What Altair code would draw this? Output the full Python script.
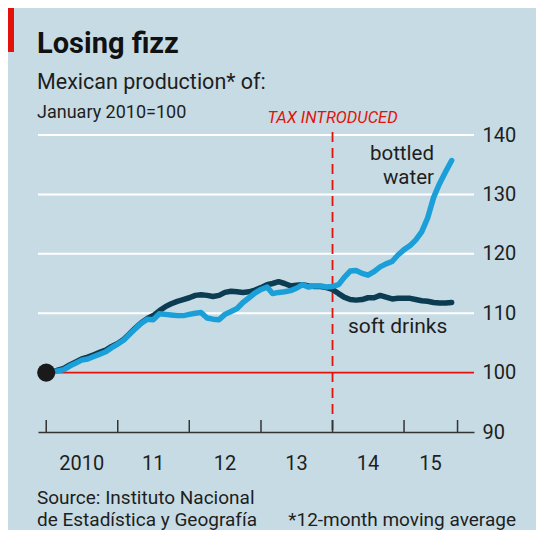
import altair as alt
import pandas as pd

# ---------------- data ----------------
months = pd.date_range("2010-01-01", periods=69, freq="MS").strftime("%Y-%m-%d").tolist()

bottled_water = [
    100.0, 100.1, 100.3, 100.5, 101.1, 101.6, 102.1, 102.3, 102.7, 103.1, 103.5, 104.2,
    104.8, 105.5, 106.4, 107.4, 108.3, 109.0, 108.9, 109.9, 109.8, 109.7, 109.6, 109.6,
    109.8, 110.0, 110.1, 109.2, 109.0, 108.9, 109.8, 110.3, 110.8, 111.8, 112.6, 113.4,
    114.0, 114.4, 113.3, 113.5, 113.6, 113.8, 114.2, 114.8, 114.4, 114.6, 114.6, 114.4,
    114.5, 114.8, 116.0, 117.1, 117.2, 116.7, 116.4, 117.0, 117.8, 118.3, 118.7, 119.8,
    120.7, 121.4, 122.3, 123.7, 126.0, 129.5, 131.8, 133.8, 135.7,
]
soft_drinks = [
    100.0, 100.1, 100.4, 100.7, 101.3, 101.8, 102.3, 102.6, 103.0, 103.4, 103.8, 104.4,
    104.9, 105.6, 106.5, 107.5, 108.4, 109.1, 109.6, 110.4, 111.1, 111.6, 112.0, 112.3,
    112.6, 113.0, 113.1, 113.0, 112.8, 113.0, 113.5, 113.7, 113.6, 113.5, 113.6, 113.9,
    114.3, 114.8, 115.0, 115.3, 115.0, 114.6, 114.7, 114.8, 114.6, 114.5, 114.5, 114.3,
    114.0, 113.3, 112.7, 112.3, 112.2, 112.3, 112.6, 112.6, 113.0, 112.7, 112.4, 112.5,
    112.5, 112.5, 112.3, 112.1, 112.0, 111.8, 111.7, 111.7, 111.8,
]

tick_dates = ["2010-01-01", "2011-01-01", "2012-01-01", "2013-01-01",
              "2014-01-01", "2015-01-01", "2015-10-01"]
year_label_dates = ["2010-07-01", "2011-07-01", "2012-07-01", "2013-07-01",
                    "2014-07-01", "2015-05-16"]
year_labels = ["2010", "11", "12", "13", "14", "15"]
y_labels = [90, 100, 110, 120, 130, 140]
grid_values = [110, 120, 130, 140]
baseline_value = [100]
tax_date = ["2014-01-01"]

# ---------------- styling ----------------
W, H = 436, 297
BG = "#c7dbe4"
FONT = "Roboto"
RED = "#e3120b"
BLUE = "#1a9fd8"
NAVY = "#0b3c52"
INK = "#1e1e1e"

x_scale = alt.Scale(domain=["2009-11-20", "2015-12-24"])
y_scale = alt.Scale(domain=[90, 140])

water_df = pd.DataFrame({"date": months, "value": bottled_water})
soft_df = pd.DataFrame({"date": months, "value": soft_drinks})
grid_df = pd.DataFrame({"value": grid_values})
base_df = pd.DataFrame({"value": baseline_value})
ticks_df = pd.DataFrame({"date": tick_dates})
ylab_df = pd.DataFrame({"value": y_labels})
xlab_df = pd.DataFrame({"date": year_label_dates, "label": year_labels})
tax_df = pd.DataFrame({"date": tax_date})
dot_df = pd.DataFrame({"date": [months[0]], "value": [bottled_water[0]]})
one = pd.DataFrame({"k": [0]})

# axes layer (y on right, x domain line)
axes = alt.Chart(ylab_df).mark_point(opacity=0).encode(
    x=alt.X("k:T", scale=x_scale,
            axis=alt.Axis(labels=False, ticks=False, grid=False, domainColor="#333333",
                          domainWidth=1.6, title=None)),
    y=alt.Y("value:Q", scale=y_scale,
            axis=alt.Axis(orient="right", values=y_labels, grid=False, ticks=False,
                          domain=False, labelFontSize=20, labelPadding=8,
                          labelColor=INK, labelFont=FONT, title=None)),
).transform_calculate(k="datetime(2012, 0, 1)")

grid = alt.Chart(grid_df).mark_rule(color="white", strokeWidth=2).encode(
    y=alt.Y("value:Q", scale=y_scale))

base = alt.Chart(base_df).mark_rule(color=RED, strokeWidth=1.6).encode(
    y=alt.Y("value:Q", scale=y_scale))

tax_line = alt.Chart(tax_df).mark_rule(color=RED, strokeWidth=1.8, strokeDash=[10, 6]).encode(
    x=alt.X("date:T", scale=x_scale), y=alt.value(-3), y2=alt.value(H))

ticks = alt.Chart(ticks_df).mark_rule(color="#333333", strokeWidth=1.5).encode(
    x=alt.X("date:T", scale=x_scale), y=alt.value(H - 12), y2=alt.value(H))

soft_line = alt.Chart(soft_df).mark_line(color=NAVY, strokeWidth=5.5, strokeJoin="round",
                                         strokeCap="round").encode(
    x=alt.X("date:T", scale=x_scale), y=alt.Y("value:Q", scale=y_scale))

water_line = alt.Chart(water_df).mark_line(color=BLUE, strokeWidth=5.5, strokeJoin="round",
                                           strokeCap="round").encode(
    x=alt.X("date:T", scale=x_scale), y=alt.Y("value:Q", scale=y_scale))

dot = alt.Chart(dot_df).mark_circle(color="#1a1a1a", size=330, opacity=1).encode(
    x=alt.X("date:T", scale=x_scale), y=alt.Y("value:Q", scale=y_scale))

xlabels = alt.Chart(xlab_df).mark_text(font=FONT, fontSize=20, color=INK,
                                       baseline="alphabetic", align="center").encode(
    x=alt.X("date:T", scale=x_scale), y=alt.value(H + 38), text="label:N")

tax_text = alt.Chart(tax_df).mark_text(text="TAX INTRODUCED", font=FONT, fontSize=16.5,
                                       fontStyle="italic", color=RED,
                                       baseline="alphabetic", align="center").encode(
    x=alt.X("date:T", scale=x_scale), y=alt.value(-12))

def label(txt, x, y, size, align="left", weight="normal", color=INK):
    return alt.Chart(one).mark_text(
        text=txt, font=FONT, fontSize=size, fontWeight=weight, color=color,
        align=align, baseline="alphabetic",
    ).encode(x=alt.value(x), y=alt.value(y))

red_tag = alt.Chart(one).mark_rect(color=RED).encode(
    x=alt.value(-30), x2=alt.value(-24), y=alt.value(-127), y2=alt.value(-83))

texts = [
    label("Losing fizz", -1, -82, 29, weight="bold", color="#111111"),
    label("Mexican production* of:", -1, -46, 21.5),
    label("January 2010=100", -1, -17, 18),
    label("bottled", 396, 25, 20.5, align="right"),
    label("water", 396, 49, 20.5, align="right"),
    label("soft drinks", 310, 198, 21),
    label("Source: Instituto Nacional", -1, 369, 19),
    label("de Estadística y Geografía", -1, 391, 19),
    label("*12-month moving average", 478, 391, 19, align="right"),
]

chart = alt.layer(
    axes, grid, base, tax_line, ticks, soft_line, water_line, dot, xlabels, tax_text,
    red_tag, *texts
).properties(
    width=W, height=H,
    padding={"left": 30, "top": 127, "right": 62, "bottom": 98},
    autosize=alt.AutoSizeParams(type="none"),
    background=BG,
).configure_view(stroke=None).configure_text(font=FONT)

chart.save("out.html", embed_options={"renderer": "svg", "actions": False})
